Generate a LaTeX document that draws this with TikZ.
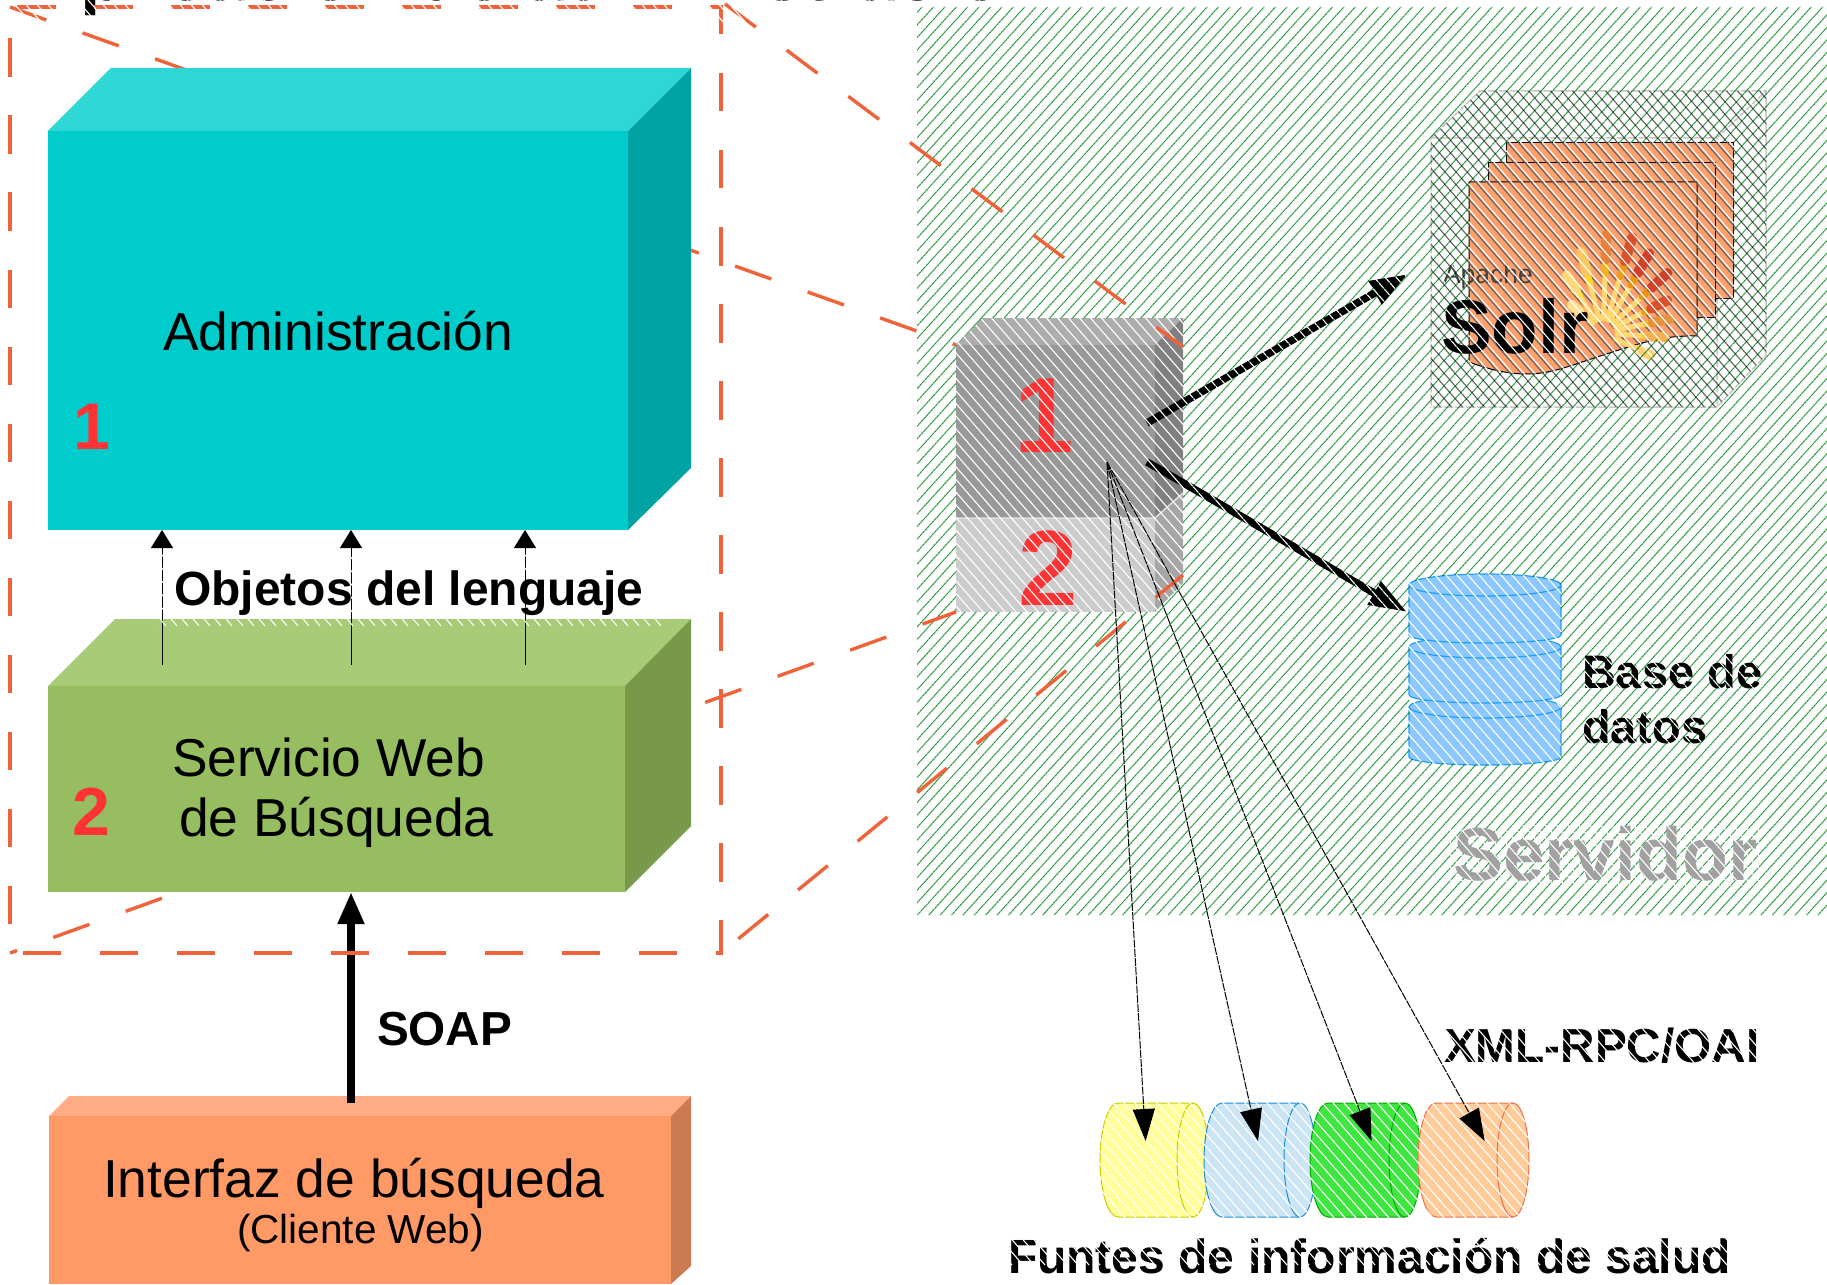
\documentclass[tikz,border=0pt]{standalone}
\usepackage{fontspec}
\setmainfont{Liberation Sans}
\usetikzlibrary{arrows.meta}
\definecolor{dashor}{HTML}{F0623A}
\definecolor{srvgreen}{HTML}{2A9A3A}
\definecolor{redn}{HTML}{FF3333}
\definecolor{pageor}{HTML}{FFA06C}
\newcommand{\fsz}[1]{\fontsize{#1}{#1}\selectfont}
\tikzset{
  lbl/.style={inner sep=0pt,outer sep=0pt,anchor=base west},
  persp/.style={draw=dashor,line width=3.4pt,dash pattern=on 38.5pt off 38.5pt},
  thickarrow/.style={black,line width=7.5pt,-{Triangle[length=38pt,width=25pt]}},
  thinarrow/.style={black,line width=1pt,dash pattern=on 8pt off 1.2pt,-{Triangle[length=32pt,width=22pt]}},
  uparrow/.style={black,line width=1pt,-{Triangle[length=18pt,width=22pt]}},
  page/.style={fill=pageor,draw=black,line width=1pt},
  hcyl/.style={line width=1pt}
}
\begin{document}
\begin{tikzpicture}[x=1pt,y=-1pt]
\useasboundingbox (0,0) rectangle (1827,1284);
\fill[white] (0,0) rectangle (1827,1284);
% title cut off by the top edge
\node[lbl,font=\bfseries\fsz{73.5}] (title) at (27,1) {Aplicación de administración};
% Solr box: outline and hatch
\coordinate (sa) at (1431,138); \coordinate (sb) at (1480,91); \coordinate (sc) at (1766,91);
\coordinate (sd) at (1766,355); \coordinate (se) at (1717,407); \coordinate (sf) at (1431,407);
\coordinate (sg) at (1717,138);
\draw[gray!45,line width=1.5pt] (sa)--(sb)--(sc)--(sd)--(se)--(sf)--cycle (sa)--(sg)--(se) (sg)--(sc);
% pages
\filldraw[page] (1506,143) rectangle (1733,298);
\filldraw[page] (1488,163) rectangle (1715,317);
\filldraw[page] (1469,182) -- (1697,182) -- (1697,336)
  .. controls (1660,335) and (1635,345) .. (1600,356)
  .. controls (1570,366) and (1550,374) .. (1527,374)
  .. controls (1505,374) and (1485,368) .. (1469,362) -- cycle;
% dark hatch in Solr box
\begin{scope}
\clip (sa)--(sb)--(sc)--(sd)--(se)--(sf)--cycle;
\foreach \i in {305.5,316.5,...,1800}{
  \draw[black!62,line width=1.1pt] (\i,0) -- ++(500,575);
}
\end{scope}
% sun rays
\foreach \a/\r/\c in {88/98/E8803A,73/100/D9502A,60/92/D0402A,43/88/D0402A,27/72/D9502A,12/68/E8903A,-4/62/F5B050,-25/52/FFD070,122/68/FFD878,105/84/FBC860,138/42/FFE090}{
  \draw[color={rgb,255:red,255;green,217;blue,110},line width=5pt,line cap=round] (1603,333) ++({-\a}:14) -- ++({-\a}:{0.45*\r});
  \definecolor{rayc}{HTML}{\c}
  \draw[color=rayc!55!yellow!90!orange,line width=7pt,line cap=round] (1603,333) ++({-\a}:{0.45*\r+14}) -- ++({-\a}:{0.3*\r-14});
  \draw[color=rayc,line width=10pt,line cap=round] (1603,333) ++({-\a}:{0.75*\r}) -- ++({-\a}:{0.25*\r});
}
\node[lbl,font=\fsz{26.5},text=black!75] (apache) at (1443,283) {Apache};
\node[lbl,font=\bfseries\fsz{76},text=black] (solr) at (1441,353) {Solr};
% server cube
\fill[black!32] (956,345) -- (982,318) -- (1183,318) -- (1155,345) -- cycle;
\fill[black!40] (956,345) rectangle (1155,518);
\fill[black!50] (1155,345) -- (1183,318) -- (1183,493) -- (1155,518) -- cycle;
\fill[black!20] (956,518) rectangle (1155,612);
\fill[black!35] (1155,518) -- (1183,493) -- (1183,583) -- (1155,612) -- cycle;
\draw[black!12,line width=1.5pt] (956,518) -- (1155,518) -- (1183,493);
\node[lbl,font=\bfseries\fsz{107},text=redn] (c1) at (1014,452) {1};
\node[lbl,font=\bfseries\fsz{107},text=redn] (c2) at (1018,605) {2};
% database
\foreach \t/\b in {707/757,647/695,585/635}{
  \fill[color={rgb,255:red,140;green,200;blue,255}] (1409,\t) -- (1409,\b) arc[start angle=180,end angle=360,x radius=76pt,y radius=8pt] -- (1561,\t) arc[start angle=0,end angle=180,x radius=76pt,y radius=11pt] -- cycle;
  \draw[color={rgb,255:red,30;green,158;blue,255},line width=1.2pt] (1409,\t) -- (1409,\b) arc[start angle=180,end angle=360,x radius=76pt,y radius=8pt] -- (1561,\t) arc[start angle=0,end angle=180,x radius=76pt,y radius=11pt] -- cycle (1409,\t) arc[start angle=180,end angle=360,x radius=76pt,y radius=11pt];
}
\coordinate (dbtip) at (1407,612);
\node[lbl,font=\bfseries\fsz{47}] (base1) at (1582,688) {Base de};
\node[lbl,font=\bfseries\fsz{47}] (base2) at (1582,743) {datos};
% sources
\foreach \l/\r/\f/\e in {1118/1193/FFFF99/CCCC00,1222/1300/CCE5F5/1E90D8,1328/1405/40E640/00AA00,1436/1513/FFCC99/F0704A}{
  \definecolor{cf}{HTML}{\f}\definecolor{ce}{HTML}{\e}
  \filldraw[hcyl,fill=cf,draw=ce] (\l,1103) -- (\r,1103) arc[start angle=90,end angle=-90,x radius=16pt,y radius=57pt] -- (\l,1217) arc[start angle=270,end angle=90,x radius=18pt,y radius=57pt] -- cycle;
  \draw[hcyl,draw=ce] (\r,1103) arc[start angle=90,end angle=270,x radius=16pt,y radius=57pt];
}
\node[lbl,font=\bfseries\fsz{47.7}] (xml) at (1444,1062) {XML-RPC/OAI};
\node[lbl,font=\bfseries\fsz{48}] (funtes) at (1008,1273) {Funtes de información de salud};
% thick arrows
\coordinate (co) at (1147,423); \coordinate (cp) at (1147,462); \coordinate (solrtip) at (1408,274);
\draw[thickarrow] (co) -- (solrtip);
\draw[thickarrow] (cp) -- (dbtip);
% white hatch over the objects of the server side and the sources
\begin{scope}
\clip (917,0) rectangle (1827,1284);
\foreach \i in {-1100,-1089,...,1827}{
  \draw[white,line width=1.1pt] (\i,0) -- ++(1100,1265);
}
\end{scope}
% server background hatch, multiplied so that it does not hide the text
\begin{scope}[blend mode=multiply,even odd rule]
\clip (917,7) rectangle (1827,915)
  (956,345) -- (982,318) -- (1183,318) -- (1183,583) -- (1155,612) -- (956,612) -- cycle
  (1506,143) -- (1733,143) -- (1733,298) -- (1715,298) -- (1715,317) -- (1697,317) -- (1697,336)
  .. controls (1660,335) and (1635,345) .. (1600,356)
  .. controls (1570,366) and (1550,374) .. (1527,374)
  .. controls (1505,374) and (1485,368) .. (1469,362) -- (1469,182) -- (1488,182) -- (1488,163) -- (1506,163) -- cycle
  (1409,585) arc[start angle=180,end angle=0,x radius=76pt,y radius=11pt] -- (1561,757) arc[start angle=0,end angle=-180,x radius=76pt,y radius=8pt] -- cycle;
\foreach \i in {917,928.4,...,2800}{
  \draw[srvgreen,line width=1pt,dash pattern=on 3pt off 0.5pt] (\i,0) -- ++(-1000,1100);
}
\end{scope}
% grey server label over the green hatch, with its own white hatch
\node[lbl,font=\bfseries\fsz{75},text=black!37] (servidor) at (1453,880) {Servidor};
\begin{scope}
\clip (1450,825) rectangle (1760,885);
\foreach \i in {300,311,...,1300}{
  \draw[white,line width=1.1pt] (\i,0) -- ++(1100,1265);
}
\end{scope}
% perspective dashes
\coordinate (rtl) at (10,7); \coordinate (rtr) at (725,4); \coordinate (rbl) at (10,953); \coordinate (rbr) at (721,953);
\coordinate (cubeA) at (956,345); \coordinate (cubeB) at (1183,347); \coordinate (cubeC) at (956,612); \coordinate (cubeD) at (1183,575);
\draw[persp] (rtl) -- (cubeA);
\draw[persp,dash phase=31pt] (rbl) -- (cubeC);
\draw[persp] (rtr) -- (cubeB);
\draw[persp,dash phase=54.5pt] (rbr) -- (cubeD);
% thin arrows to sources
\coordinate (to) at (1107,462);
\coordinate (t1) at (1145.6,1141); \coordinate (t2) at (1258,1141); \coordinate (t3) at (1371.6,1141); \coordinate (t4) at (1484.7,1141);
\foreach \t in {t1,t2,t3,t4}{ \draw[thinarrow] (to) -- (\t); }
% administration box
\fill[color={rgb,255:red,46;green,214;blue,214}] (48,131) -- (111,68) -- (691,68) -- (628,131) -- cycle;
\fill[color={rgb,255:red,0;green,204;blue,204}] (48,131) rectangle (628,530);
\fill[color={rgb,255:red,0;green,163;blue,163}] (628,131) -- (691,68) -- (691,468) -- (628,530) -- cycle;
\node[lbl,font=\fsz{53.4}] (admin) at (163,350) {Administración};
\node[lbl,font=\bfseries\fsz{66},text=redn] (n1) at (73,449) {1};
% web service box
\fill[color={rgb,255:red,168;green,203;blue,120}] (48,686) -- (115,619) -- (691,619) -- (625,686) -- cycle;
\fill[color={rgb,255:red,150;green,189;blue,95}] (48,686) rectangle (625,892);
\fill[color={rgb,255:red,120;green,153;blue,74}] (625,686) -- (691,619) -- (691,826) -- (625,892) -- cycle;
\node[lbl,font=\fsz{53.3}] (ws1) at (172,776) {Servicio Web};
\node[lbl,font=\fsz{53.4}] (ws2) at (179,836) {de Búsqueda};
\node[lbl,font=\bfseries\fsz{68},text=redn] (n2) at (72,835) {2};
% object arrows
\foreach \x/\n in {162/a,351/b,525/c}{
  \coordinate (from\n) at (\x,665);
  \coordinate (to\n) at (\x,530);
  \draw[uparrow] (from\n) -- (to\n);
}
\begin{scope}
\clip (155,549) rectangle (665,626);
\foreach \i in {155,166,...,800}{
  \draw[white,line width=1pt] (\i,626) -- ++(-64,-77);
}
\end{scope}
\node[lbl,font=\bfseries\fsz{48}] (obj) at (174,605) {Objetos del lenguaje};
% interface box
\fill[color={rgb,255:red,255;green,172;blue,133}] (49,1116) -- (69,1096) -- (691,1096) -- (671,1116) -- cycle;
\fill[color={rgb,255:red,255;green,153;blue,102}] (49,1116) rectangle (671,1284);
\fill[color={rgb,255:red,204;green,122;blue,82}] (671,1116) -- (691,1096) -- (691,1266) -- (671,1284) -- cycle;
\node[lbl,font=\fsz{53.4}] (ifz) at (103,1197) {Interfaz de búsqueda};
\node[lbl,font=\fsz{40.5}] (cli) at (237,1243) {(Cliente Web)};
% SOAP arrow
\coordinate (soapfrom) at (351,1103); \coordinate (soapto) at (351,892);
\draw[black,line width=7.5pt,-{Triangle[length=32pt,width=25pt]}] (soapfrom) -- (soapto);
\node[lbl,font=\bfseries\fsz{47.7}] (soap) at (377,1045) {SOAP};
% dashed frame
\draw[persp,dash phase=48pt] (rbl) -- (rtl) -- (721,7) -- (rbr) -- cycle;
\begin{scope}
\clip (0,0) rectangle (917,28);
\foreach \i in {-1100,-1089,...,900}{
  \draw[white,line width=1.1pt] (\i,0) -- ++(1100,1265);
}
\end{scope}
\end{tikzpicture}
\end{document}
